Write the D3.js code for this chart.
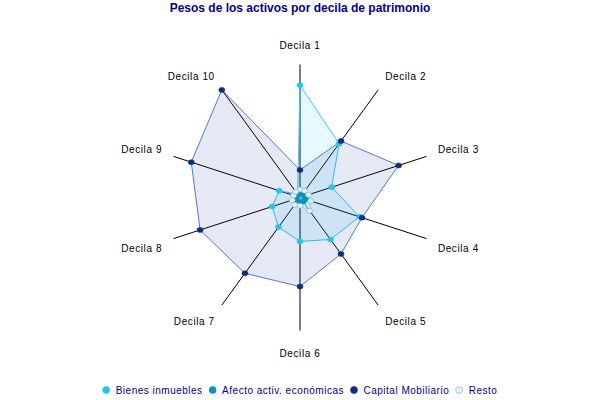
<!DOCTYPE html>
<html>
<head>
<meta charset="utf-8">
<script src="https://cdn.jsdelivr.net/npm/d3@7"></script>
<style>
  body { margin: 0; background: #fff; }
  text { font-family: "Liberation Sans", Arial, sans-serif; }
</style>
</head>
<body>
<div id="chart"></div>
<script>
// deciles de patrimonio (ejes del radar)
var deciles = ["Decila 1", "Decila 2", "Decila 3", "Decila 4", "Decila 5",
               "Decila 6", "Decila 7", "Decila 8", "Decila 9", "Decila 10"];

var seriesNames = ["Bienes inmuebles", "Afecto activ. económicas", "Capital Mobiliario", "Resto"];

// pesos (%)
var bienesInmuebles = [75.2, 44.5, 22.3, 41.8, 34.7, 29.4, 24.5, 19.6, 14.7, 2.7];
var afectoActiv     = [2.5, 3.0, 3.5, 4.0, 3.5, 3.5, 3.0, 3.0, 2.5, 3.5];
var capitalMob      = [18.4, 46.7, 69.4, 43.6, 46.7, 59.6, 62.7, 70.3, 76.5, 89.0];
var resto           = [5.3, 5.5, 6.0, 7.5, 11.0, 5.5, 6.0, 5.5, 4.5, 4.8];

let width = 600;
let height = 400;
let cx = 300, cy = 197.5, radius = 133;

let svg = d3.select("#chart")
  .append("svg")
  .attr("width", width)
  .attr("height", height);

let series = [
  {name: seriesNames[0], values: bienesInmuebles, stroke: "#33ccff", fill: "rgba(51,204,255,0.12)", dot: "#22c4f2", dotStroke: "#22c4f2"},
  {name: seriesNames[1], values: afectoActiv, stroke: "#0099cc", fill: "rgba(0,136,187,0.6)", dot: "#0892c4", dotStroke: "#0892c4"},
  {name: seriesNames[2], values: capitalMob, stroke: "#5577cc", fill: "rgba(0,40,150,0.1)", dot: "#0a2d8c", dotStroke: "#0a2d8c"},
  {name: seriesNames[3], values: resto, stroke: "#a8c4c8", fill: "rgba(204,255,255,0.5)", dot: "#d6f8fa", dotStroke: "#90aab0"}
];

let maxVal = d3.max(series, s => d3.max(s.values));

let r = d3.scaleLinear()
  .domain([0, maxVal])
  .range([0, radius]);

let angle = d3.scaleLinear()
  .domain([0, deciles.length])
  .range([0, 2 * Math.PI]);

function px(i, v) { return cx + r(v) * Math.sin(angle(i)); }
function py(i, v) { return cy - r(v) * Math.cos(angle(i)); }

// titulo
svg.append("text")
  .attr("x", width / 2)
  .attr("y", 12)
  .attr("text-anchor", "middle")
  .style("font-size", "12px")
  .style("font-weight", "bold")
  .style("fill", "#000099")
  .text("Pesos de los activos por decila de patrimonio");

// ejes
svg.append("g")
  .selectAll("line")
  .data(deciles)
  .enter()
  .append("line")
  .attr("x1", cx)
  .attr("y1", cy)
  .attr("x2", (d, i) => px(i, maxVal))
  .attr("y2", (d, i) => py(i, maxVal))
  .style("stroke", "#000")
  .style("stroke-width", "1px");

// poligonos
let line = d3.lineRadial()
  .angle((d, i) => angle(i))
  .radius(d => r(d))
  .curve(d3.curveLinearClosed);

svg.append("g")
  .attr("transform", "translate(" + cx + "," + cy + ")")
  .selectAll("path")
  .data(series)
  .enter()
  .append("path")
  .attr("d", d => line(d.values))
  .style("fill", d => d.fill)
  .style("stroke", d => d.stroke)
  .style("stroke-width", "1px");

// puntos
series.forEach(function(s) {
  svg.append("g")
    .selectAll("ellipse")
    .data(s.values)
    .enter()
    .append("ellipse")
    .attr("cx", (d, i) => px(i, d))
    .attr("cy", (d, i) => py(i, d))
    .attr("rx", 3)
    .attr("ry", 2.5)
    .style("fill", s.dot)
    .style("stroke", s.dotStroke)
    .style("stroke-width", "0.6px");
});

// etiquetas de los ejes
svg.append("g")
  .selectAll("text")
  .data(deciles)
  .enter()
  .append("text")
  .attr("x", (d, i) => px(i, r.invert(radius + 12)))
  .attr("y", function(d, i) {
    let dy = -Math.cos(angle(i));
    let y = py(i, r.invert(radius + 12));
    if (Math.abs(dy) > 0.99) y = py(i, r.invert(radius + 16));
    return dy > 0 ? y + 10 : y;
  })
  .attr("text-anchor", function(d, i) {
    let dx = Math.sin(angle(i));
    return dx > 0.1 ? "start" : (dx < -0.1 ? "end" : "middle");
  })
  .style("font-size", "10px")
  .style("letter-spacing", "0.6px")
  .style("fill", "#000")
  .text(d => d);

// leyenda
let legend = svg.append("g");
let legX = 0;
series.forEach(function(s) {
  let item = legend.append("g").attr("transform", "translate(" + legX + ",0)");
  item.append("circle")
    .attr("cx", 3.5)
    .attr("cy", 0)
    .attr("r", 3.5)
    .style("fill", s.dot)
    .style("stroke", s.dotStroke)
    .style("stroke-width", "0.6px");
  let t = item.append("text")
    .attr("x", 13)
    .attr("y", 3.5)
    .style("font-size", "10px")
    .style("letter-spacing", "0.5px")
    .style("fill", "#000099")
    .text(s.name);
  legX += 13 + t.node().getComputedTextLength() + 6.5;
});
legX -= 6.5;
legend.attr("transform", "translate(" + (width / 2 - legX / 2) + ",390)");
</script>
</body>
</html>
